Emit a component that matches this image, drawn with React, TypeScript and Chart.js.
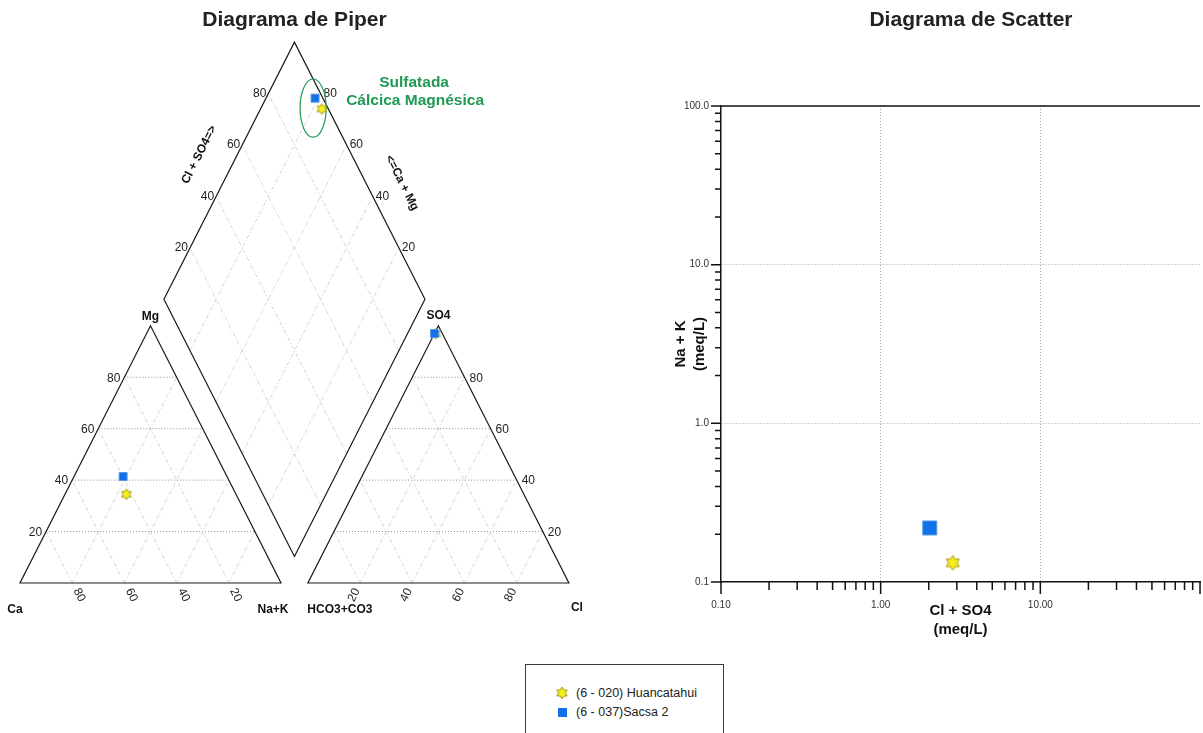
import React, { useEffect, useRef } from "react";
import { Chart, registerables } from "chart.js";

Chart.register(...registerables);

const FONT = '"Liberation Sans", Arial, Helvetica, sans-serif';

// ---- samples ----
const sampleNames = ["(6 - 020) Huancatahui", "(6 - 037)Sacsa 2"];
// cations, % of meq
const caPct = [42.0, 39.8];
const mgPct = [34.5, 41.4];
const naKPct = [23.5, 18.8];
// anions, % of meq
const hco3Pct = [2.5, 3.0];
const so4Pct = [97.0, 97.0];
const clPct = [0.5, 0.0];
// scatter values, meq/L
const clSo4Meq = [2.83, 2.03];
const naKMeq = [0.132, 0.219];

// ---- ticks ----
const piperTicks = [20, 40, 60, 80];
const logTickValues = [
  0.1, 0.2, 0.3, 0.4, 0.5, 0.6, 0.7, 0.8, 0.9,
  1, 2, 3, 4, 5, 6, 7, 8, 9,
  10, 20, 30, 40, 50, 60, 70, 80, 90, 100,
];
const xMajorValues = [0.1, 1, 10, 100];
const xMajorLabels = ["0.10", "1.00", "10.00", ""];
const yMajorValues = [0.1, 1, 10, 100];
const yMajorLabels = ["0.1", "1.0", "10.0", "100.0"];
const gridValues = [1, 10];

const STAR_FILL = "#f4ee1e";
const STAR_EDGE = "#a99c12";
const SQUARE_FILL = "#1271e6";
const SQUARE_EDGE = "#5c98e6";
const GREEN = "#1f9a55";

// ---- Piper geometry (abstract units, triangle side = 100) ----
const H = 86.6;
const GAP = 10.3;
const OFF = 100 + GAP;
const BX = 100 + GAP / 2;
const BY = (GAP * H) / 100;

// layout of the piper canvas
const PIPER_W = 600;
const PIPER_H = 640;
const PX_X = 2.61;
const PX_Y = 2.97;
const ORIGIN_X = 20;
const ORIGIN_Y = 583;

// layout of the scatter canvas (extends past the page edge; the tick padding
// reserves room on the right, so the plot area ends at the page's x = 1200)
const SC_LEFT = 600;
const SC_W = 617;
const SC_H = 650;

const near = (a: number, b: number) => Math.abs(a - b) < 1e-9 * Math.max(1, Math.abs(b));

function cationPoint(ca: number, mg: number, nak: number) {
  const t = ca + mg + nak;
  return { x: ((nak + mg / 2) / t) * 100, y: (mg / t) * H };
}
function anionPoint(hco3: number, so4: number, cl: number) {
  const t = hco3 + so4 + cl;
  return { x: OFF + ((cl + so4 / 2) / t) * 100, y: (so4 / t) * H };
}
function diamondPoint(s: number, c: number) {
  return { x: BX + (s - c) / 2, y: BY + ((s + c) * H) / 100 };
}
function piperPoints(i: number) {
  const tc = caPct[i] + mgPct[i] + naKPct[i];
  const ta = hco3Pct[i] + so4Pct[i] + clPct[i];
  const S = ((so4Pct[i] + clPct[i]) / ta) * 100;
  const C = ((caPct[i] + mgPct[i]) / tc) * 100;
  return [
    cationPoint(caPct[i], mgPct[i], naKPct[i]),
    anionPoint(hco3Pct[i], so4Pct[i], clPct[i]),
    diamondPoint(S, C),
  ];
}

function hexagram(cx: number, cy: number, r: number) {
  const pts: [number, number][] = [];
  const ri = r / Math.sqrt(3);
  for (let k = 0; k < 12; k++) {
    const a = (k * 30 * Math.PI) / 180;
    const rr = k % 2 === 0 ? r : ri;
    pts.push([cx + rr * Math.sin(a), cy - rr * Math.cos(a)]);
  }
  return pts;
}

function makeStarCanvas(r: number) {
  const c = document.createElement("canvas");
  const s = Math.ceil(2 * r + 4);
  c.width = s;
  c.height = s;
  const ctx = c.getContext("2d")!;
  const pts = hexagram(s / 2, s / 2, r);
  ctx.beginPath();
  pts.forEach(([x, y], i) => (i ? ctx.lineTo(x, y) : ctx.moveTo(x, y)));
  ctx.closePath();
  ctx.fillStyle = STAR_FILL;
  ctx.fill();
  ctx.strokeStyle = STAR_EDGE;
  ctx.lineWidth = 1;
  ctx.stroke();
  return c;
}

const piperDecor = {
  id: "piperDecor",
  beforeDatasetsDraw(chart: any) {
    const { ctx } = chart;
    const xs = chart.scales.x;
    const ys = chart.scales.y;
    const P = (p: { x: number; y: number }): [number, number] => [
      xs.getPixelForValue(p.x),
      ys.getPixelForValue(p.y),
    ];
    const seg = (a: any, b: any, color: string, w: number, dash: number[]) => {
      const [x1, y1] = P(a);
      const [x2, y2] = P(b);
      ctx.save();
      ctx.strokeStyle = color;
      ctx.lineWidth = w;
      ctx.setLineDash(dash);
      ctx.beginPath();
      ctx.moveTo(x1, y1);
      ctx.lineTo(x2, y2);
      ctx.stroke();
      ctx.restore();
    };
    const poly = (pts: any[]) => {
      ctx.save();
      ctx.strokeStyle = "#1a1a1a";
      ctx.lineWidth = 1.2;
      ctx.beginPath();
      pts.forEach((p, i) => {
        const [x, y] = P(p);
        i ? ctx.lineTo(x, y) : ctx.moveTo(x, y);
      });
      ctx.closePath();
      ctx.stroke();
      ctx.restore();
    };
    const text = (
      str: string, x: number, y: number, font: string, color: string,
      align: CanvasTextAlign = "center", rot = 0
    ) => {
      ctx.save();
      ctx.translate(x, y);
      ctx.rotate(rot);
      ctx.font = font;
      ctx.fillStyle = color;
      ctx.textAlign = align;
      ctx.textBaseline = "middle";
      ctx.fillText(str, 0, 0);
      ctx.restore();
    };

    const faint = "#d4d4d4";
    const faintDash = [4, 2, 1, 2];
    const dotted = "#8f8f8f";
    const dotDash = [1, 2];

    // grids
    piperTicks.forEach((t) => {
      const v = (t * H) / 100;
      // left triangle
      seg({ x: 100 - t, y: 0 }, { x: (100 - t) / 2, y: ((100 - t) * H) / 100 }, faint, 1, faintDash);
      seg({ x: t, y: 0 }, { x: t + (100 - t) / 2, y: ((100 - t) * H) / 100 }, faint, 1, faintDash);
      seg({ x: t / 2, y: v }, { x: 100 - t / 2, y: v }, dotted, 1, dotDash);
      // right triangle
      seg({ x: OFF + 100 - t, y: 0 }, { x: OFF + (100 - t) / 2, y: ((100 - t) * H) / 100 }, faint, 1, faintDash);
      seg({ x: OFF + t, y: 0 }, { x: OFF + t + (100 - t) / 2, y: ((100 - t) * H) / 100 }, faint, 1, faintDash);
      seg({ x: OFF + t / 2, y: v }, { x: OFF + 100 - t / 2, y: v }, dotted, 1, dotDash);
      // diamond
      seg(diamondPoint(t, 0), diamondPoint(t, 100), faint, 1, faintDash);
      seg(diamondPoint(0, t), diamondPoint(100, t), faint, 1, faintDash);
    });

    // outlines
    poly([{ x: 0, y: 0 }, { x: 100, y: 0 }, { x: 50, y: H }]);
    poly([{ x: OFF, y: 0 }, { x: OFF + 100, y: 0 }, { x: OFF + 50, y: H }]);
    poly([diamondPoint(0, 0), diamondPoint(100, 0), diamondPoint(100, 100), diamondPoint(0, 100)]);

    const tickFont = `12px ${FONT}`;
    const boldFont = `bold 12px ${FONT}`;
    const tc = "#222";

    const [apx, apy] = P({ x: 50, y: H });
    const [nkx, nky] = P({ x: 100, y: 0 });
    const ang = Math.atan2(nky - apy, nkx - apx);

    piperTicks.forEach((t) => {
      const v = (t * H) / 100;
      // left triangle, Mg along the left edge
      const [lx, ly] = P({ x: t / 2, y: v });
      text(String(t), lx - 4, ly + 1, tickFont, tc, "right");
      // right triangle, SO4 along right edge
      const [rx, ry] = P({ x: OFF + 100 - t / 2, y: v });
      text(String(t), rx + 5, ry + 1, tickFont, tc, "left");
      // left base: Ca
      const [bx, by] = P({ x: 100 - t, y: 0 });
      text(String(t), bx + 7, by + 12, tickFont, tc, "center", ang);
      // right base: Cl
      const [cx, cy] = P({ x: OFF + t, y: 0 });
      text(String(t), cx - 6, cy + 12, tickFont, tc, "center", -ang);
      // diamond left edge: Cl+SO4
      const [dx, dy] = P(diamondPoint(t, 100));
      text(String(t), dx - 2, dy, tickFont, tc, "right");
      // diamond right edge: Ca+Mg
      const [ex, ey] = P(diamondPoint(100, t));
      text(String(t), ex + 3, ey, tickFont, tc, "left");
    });

    // vertex labels
    const [cax, cay] = P({ x: 0, y: 0 });
    const [sox, soy] = P({ x: OFF + 50, y: H });
    const [hcx, hcy] = P({ x: OFF, y: 0 });
    const [clx, cly] = P({ x: OFF + 100, y: 0 });
    text("Mg", apx, apy - 9, boldFont, "#111");
    text("Ca", cax - 5, cay + 27, boldFont, "#111");
    text("Na+K", nkx - 8, nky + 27, boldFont, "#111");
    text("SO4", sox, soy - 10, boldFont, "#111");
    text("HCO3+CO3", hcx + 32, hcy + 27, boldFont, "#111");
    text("Cl", clx + 8, cly + 25, boldFont, "#111");

    // diamond axis titles
    const [llx, lly] = P(diamondPoint(57, 100));
    text("Cl + SO4=>", llx - 39, lly + 2, boldFont, "#111", "center", -ang);
    const [rrx, rry] = P(diamondPoint(100, 46));
    text("<=Ca + Mg", rrx + 37, rry + 2, boldFont, "#111", "center", ang);

    // title
    text("Diagrama de Piper", xs.getPixelForValue(BX), 20, `bold 21px ${FONT}`, "#222");

    // classification ellipse + label
    const ec = { x: 112.3, y: 159.9 };
    const [ex0, ey0] = P(ec);
    const rxp = Math.abs(xs.getPixelForValue(ec.x + 5) - ex0);
    const ryp = Math.abs(ys.getPixelForValue(ec.y + 9.8) - ey0);
    ctx.save();
    ctx.strokeStyle = GREEN;
    ctx.lineWidth = 1.2;
    ctx.beginPath();
    ctx.ellipse(ex0, ey0, rxp, ryp, 0, 0, Math.PI * 2);
    ctx.stroke();
    ctx.restore();
    text("Sulfatada", ex0 + 101, ey0 - 25, `bold 15.5px ${FONT}`, GREEN);
    text("Cálcica Magnésica", ex0 + 102, ey0 - 7, `bold 15.5px ${FONT}`, GREEN);
  },
};

const scatterDecor = {
  id: "scatterDecor",
  afterDraw(chart: any) {
    const { ctx, chartArea: a } = chart;
    const xs = chart.scales.x;
    const ys = chart.scales.y;
    ctx.save();
    ctx.strokeStyle = "#111";
    ctx.lineWidth = 1.5;
    ctx.setLineDash([]);
    ctx.beginPath();
    ctx.moveTo(a.left, a.top);
    ctx.lineTo(a.right, a.top);
    logTickValues.forEach((v) => {
      const px = xs.getPixelForValue(v);
      const major = xMajorValues.some((m) => near(v, m));
      ctx.moveTo(px, a.bottom);
      ctx.lineTo(px, a.bottom + (major ? 12 : 8));
      const py = ys.getPixelForValue(v);
      const ymaj = yMajorValues.some((m) => near(v, m));
      ctx.moveTo(a.left, py);
      ctx.lineTo(a.left - (ymaj ? 10 : 6), py);
    });
    ctx.stroke();
    ctx.font = `bold 21px ${FONT}`;
    ctx.fillStyle = "#222";
    ctx.textAlign = "center";
    ctx.textBaseline = "middle";
    ctx.fillText("Diagrama de Scatter", 971 - SC_LEFT, 20);
    ctx.restore();
  },
};

function SvgStar({ r }: { r: number }) {
  const s = 2 * r + 2;
  const pts = hexagram(s / 2, s / 2, r).map((p) => p.join(",")).join(" ");
  return (
    <svg width={s} height={s} style={{ display: "block" }}>
      <polygon points={pts} fill={STAR_FILL} stroke={STAR_EDGE} strokeWidth={1} />
    </svg>
  );
}

export default function App() {
  const piperRef = useRef<HTMLCanvasElement>(null);
  const scatterRef = useRef<HTMLCanvasElement>(null);

  useEffect(() => {
    const starSmall = makeStarCanvas(5.5);
    const starBig = makeStarCanvas(7.5);

    const piper = new Chart(piperRef.current!, {
      type: "scatter",
      data: {
        datasets: [
          {
            label: sampleNames[0],
            data: piperPoints(0),
            pointStyle: starSmall as any,
            pointRadius: 5,
            order: 1,
          },
          {
            label: sampleNames[1],
            data: piperPoints(1),
            pointStyle: "rect",
            pointRadius: 5.66,
            backgroundColor: SQUARE_FILL,
            borderColor: SQUARE_EDGE,
            borderWidth: 1,
            order: 0,
          },
        ],
      },
      options: {
        animation: false,
        responsive: false,
        layout: { padding: 0, autoPadding: false },
        plugins: { legend: { display: false }, tooltip: { enabled: false } },
        scales: {
          x: {
            type: "linear",
            display: false,
            min: -ORIGIN_X / PX_X,
            max: (PIPER_W - ORIGIN_X) / PX_X,
          },
          y: {
            type: "linear",
            display: false,
            min: -(PIPER_H - ORIGIN_Y) / PX_Y,
            max: ORIGIN_Y / PX_Y,
          },
        },
      },
      plugins: [piperDecor],
    });

    const labelFor = (v: number, vals: number[], labels: string[]) => {
      const i = vals.findIndex((m) => near(v, m));
      return i >= 0 ? labels[i] : "";
    };
    const gridColor = (c: any) =>
      c.tick && gridValues.some((g) => near(c.tick.value, g)) ? "#a8a8a8" : "rgba(0,0,0,0)";

    const scatter = new Chart(scatterRef.current!, {
      type: "scatter",
      data: {
        datasets: [
          {
            label: sampleNames[0],
            data: [{ x: clSo4Meq[0], y: naKMeq[0] }],
            pointStyle: starBig as any,
            pointRadius: 7,
            order: 1,
          },
          {
            label: sampleNames[1],
            data: [{ x: clSo4Meq[1], y: naKMeq[1] }],
            pointStyle: "rect",
            pointRadius: 9.9,
            backgroundColor: SQUARE_FILL,
            borderColor: SQUARE_EDGE,
            borderWidth: 1,
            order: 0,
          },
        ],
      },
      options: {
        animation: false,
        responsive: false,
        layout: { padding: { top: 106, right: 0, left: 0, bottom: 0 }, autoPadding: false },
        plugins: { legend: { display: false }, tooltip: { enabled: false } },
        scales: {
          x: {
            type: "logarithmic",
            position: "bottom",
            min: 0.1,
            max: 100,
            afterBuildTicks: (s: any) => {
              s.ticks = logTickValues.map((v) => ({ value: v }));
            },
            afterFit: (s: any) => {
              s.height = 68;
            },
            ticks: {
              autoSkip: false,
              maxRotation: 0,
              padding: 17,
              color: "#333",
              font: { family: FONT, size: 10 },
              callback: (v: any) => labelFor(Number(v), xMajorValues, xMajorLabels),
            },
            grid: { drawTicks: false, color: gridColor, lineWidth: 1 },
            border: { display: true, color: "#111", width: 1.5, dash: [1, 2] },
            title: {
              display: true,
              text: ["Cl + SO4", "(meq/L)"],
              color: "#111",
              font: { family: FONT, size: 15, weight: "bold", lineHeight: 1.3 },
              padding: { top: 0, bottom: 10 },
            },
          },
          y: {
            type: "logarithmic",
            position: "left",
            min: 0.1,
            max: 100,
            afterBuildTicks: (s: any) => {
              s.ticks = logTickValues.map((v) => ({ value: v }));
            },
            afterFit: (s: any) => {
              s.width = 121;
            },
            ticks: {
              autoSkip: false,
              padding: 12,
              color: "#333",
              font: { family: FONT, size: 10 },
              callback: (v: any) => labelFor(Number(v), yMajorValues, yMajorLabels),
            },
            grid: { drawTicks: false, color: gridColor, lineWidth: 1 },
            border: { display: true, color: "#111", width: 1.5, dash: [1, 2] },
            title: {
              display: true,
              text: ["Na + K", "(meq/L)"],
              color: "#111",
              font: { family: FONT, size: 15, weight: "bold", lineHeight: 1.3 },
              padding: { top: 71, bottom: 0 },
            },
          },
        },
      },
      plugins: [scatterDecor],
    });

    return () => {
      piper.destroy();
      scatter.destroy();
    };
  }, []);

  return (
    <div
      style={{
        position: "absolute",
        left: 0,
        top: 0,
        width: 1203,
        height: 733,
        overflow: "hidden",
        background: "#fff",
      }}
    >
      <canvas
        ref={piperRef}
        width={PIPER_W}
        height={PIPER_H}
        style={{ position: "absolute", left: 0, top: 0, width: PIPER_W, height: PIPER_H }}
      />
      <canvas
        ref={scatterRef}
        width={SC_W}
        height={SC_H}
        style={{ position: "absolute", left: SC_LEFT, top: 0, width: SC_W, height: SC_H }}
      />
      <div
        style={{
          position: "absolute",
          left: 525,
          top: 664,
          width: 199,
          height: 80,
          boxSizing: "border-box",
          border: "1px solid #3a3a3a",
          background: "#fff",
          fontFamily: FONT,
          fontSize: 12.5,
          color: "#222",
        }}
      >
        {sampleNames.map((name, i) => (
          <div
            key={name}
            style={{
              position: "absolute",
              left: 28,
              top: i === 0 ? 20 : 39,
              height: 16,
              display: "flex",
              alignItems: "center",
              whiteSpace: "nowrap",
            }}
          >
            <div style={{ width: 16, display: "flex", justifyContent: "center" }}>
              {i === 0 ? (
                <SvgStar r={6} />
              ) : (
                <div style={{ width: 9, height: 9, background: SQUARE_FILL }} />
              )}
            </div>
            <span style={{ marginLeft: 6 }}>{name}</span>
          </div>
        ))}
      </div>
    </div>
  );
}
